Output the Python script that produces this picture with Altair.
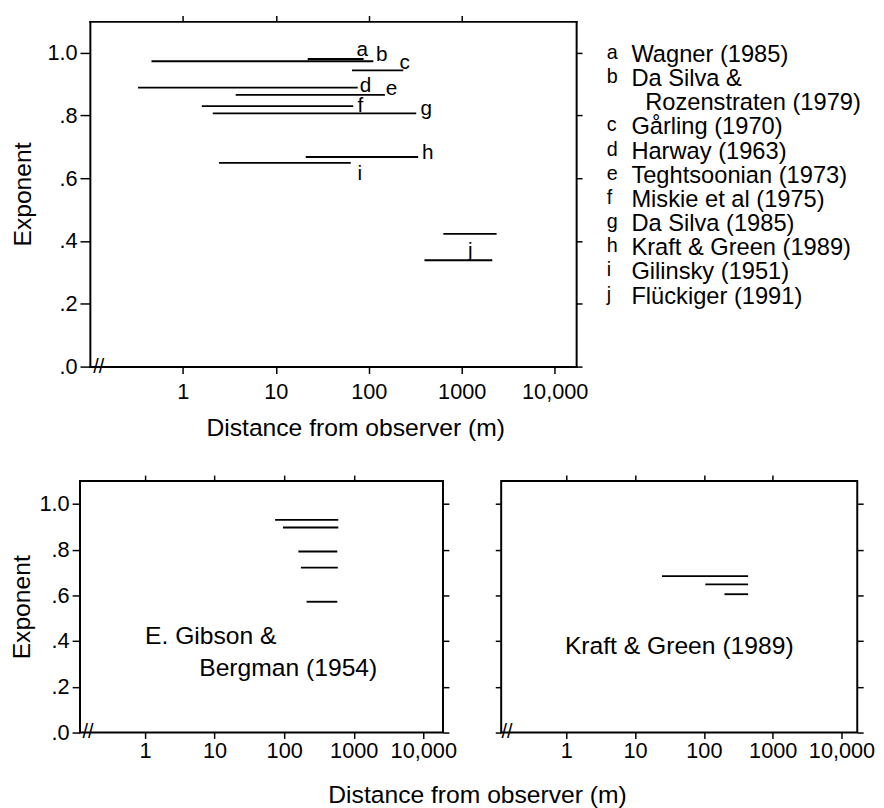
import altair as alt
import pandas as pd

FONT = "Liberation Sans"

# ---------------- data ----------------
# top panel: studies a-j
study_letters = ["a", "b", "c", "d", "e", "f", "g", "h", "i", "j"]
study_names = [
    "Wagner (1985)",
    "Da Silva &\nRozenstraten (1979)",
    "Gårling (1970)",
    "Harway (1963)",
    "Teghtsoonian (1973)",
    "Miskie et al (1975)",
    "Da Silva (1985)",
    "Kraft & Green (1989)",
    "Gilinsky (1951)",
    "Flückiger (1991)",
]
seg_study = ["a", "b", "c", "d", "e", "f", "g", "h", "i", "j", "j"]
seg_from = [22, 0.46, 66, 0.33, 3.7, 1.6, 2.1, 21, 2.45, 634, 397]
seg_to = [88, 112, 235, 76, 149, 68, 324, 340, 64, 2370, 2130]
seg_exp = [0.980, 0.973, 0.944, 0.889, 0.866, 0.830, 0.807, 0.668, 0.649, 0.423, 0.339]
label_dist = [85, 138, 244, 92, 176, 81, 414, 431, 80, 1239]
label_exp = [1.010, 0.992, 0.966, 0.895, 0.883, 0.830, 0.821, 0.680, 0.615, 0.369]

# bottom left: E. Gibson & Bergman (1954)
gb_from = [74, 96, 160, 174, 210]
gb_to = [600, 600, 580, 590, 580]
gb_exp = [0.930, 0.897, 0.792, 0.721, 0.572]
gb_text = ["E. Gibson &", "Bergman (1954)"]
gb_text_dist = [1.0, 6.0]
gb_text_exp = [0.422, 0.280]

# bottom right: Kraft & Green (1989)
kg_from = [24.6, 105, 199]
kg_to = [439, 439, 439]
kg_exp = [0.684, 0.648, 0.605]
kg_text = ["Kraft & Green (1989)"]
kg_text_dist = [43.8]
kg_text_exp = [0.379]

x_ticks = [1, 10, 100, 1000, 10000]
top_ticks = [1, 10, 100, 1000]
y_ticks = [0, 0.2, 0.4, 0.6, 0.8, 1.0]
x_title = "Distance from observer (m)"
y_title = "Exponent"

XLAB = "datum.value >= 10000 ? format(datum.value, ',') : format(datum.value, 'd')"
YLAB = "datum.value < 1 ? substring(format(datum.value, '.1f'), 1) : format(datum.value, '.1f')"

FRAME = dict(domain=True, domainColor="black", domainWidth=2, domainCap="square")
NOFRAME = dict(domain=False)


def panel(seg_df, txt_df, width, height, x_domain, x_axis, y_axis, txt_mark, break_x,
          x_range=None, frame=NOFRAME, view=None):
    if x_range is None:
        xs = alt.Scale(type="log", domain=x_domain, nice=False)
    else:
        xs = alt.Scale(type="log", domain=x_domain, nice=False, range=x_range)
    ys = alt.Scale(domain=[0, 1.1], nice=False, zero=False)
    top_axis = alt.Axis(orient="top", values=top_ticks, labels=False, tickSize=6,
                        grid=False, title=None, **frame)
    right_axis = alt.Axis(orient="right", values=y_ticks, labels=False, tickSize=6,
                          grid=False, title=None, **frame)
    segs = alt.Chart(seg_df).mark_rule(color="black", strokeWidth=1.9).encode(
        x=alt.X("start:Q", scale=xs, axis=x_axis),
        x2="end:Q",
        y=alt.Y("exp:Q", scale=ys, axis=y_axis),
    )
    txt = alt.Chart(txt_df).mark_text(color="black", font=FONT, **txt_mark).encode(
        x=alt.X("dist:Q", scale=xs, axis=top_axis),
        y=alt.Y("exp:Q", scale=ys, axis=right_axis),
        text="label:N",
    )
    brk = alt.Chart(pd.DataFrame({"brk": ["//"]})).mark_text(
        fontSize=20, font=FONT, color="black", align="center", baseline="middle"
    ).encode(x=alt.value(break_x), y=alt.value(height), text="brk:N")
    props = dict(width=width, height=height)
    if view is not None:
        props["view"] = view
    return (
        alt.layer(segs, txt, brk)
        .resolve_axis(x="independent", y="independent")
        .properties(**props)
    )


# ---------------- top panel ----------------
# the top frame starts 10px right of the bottom-left frame: the plot origin is shared,
# so the x range starts at 10 and the frame is drawn with the axis domains.
top_seg = pd.DataFrame({"study": seg_study, "start": seg_from, "end": seg_to, "exp": seg_exp})
top_txt = pd.DataFrame({"label": study_letters, "dist": label_dist, "exp": label_exp})
top_panel = panel(
    top_seg, top_txt, 503, 350, [0.1, 17000],
    alt.Axis(orient="bottom", values=x_ticks, labelExpr=XLAB, tickSize=7, labelPadding=8,
             grid=False, title=x_title, titlePadding=14, titleX=279,
             titleAlign="center", **FRAME),
    alt.Axis(orient="left", values=y_ticks, labelExpr=YLAB, tickSize=10, labelPadding=3,
             grid=False, title=y_title, titlePadding=12, offset=-10, **FRAME),
    dict(fontSize=21, align="center", baseline="middle"),
    19,
    x_range=[10, 503],
    frame=FRAME,
    view=alt.ViewBackground(stroke="transparent"),
)

# legend (text list at the right)
rows = []
r = 0
for letter, name in zip(study_letters, study_names):
    for k, line in enumerate(name.split("\n")):
        rows.append({"row": r, "letter": letter if k == 0 else "", "text": line, "indent": k})
        r += 1
leg_df = pd.DataFrame(rows)
leg_y = alt.Y("row:Q", scale=alt.Scale(domain=[-1.39, 11.26], reverse=True, nice=False, zero=False),
              axis=None)
leg_base = alt.Chart(leg_df)
leg_letters = leg_base.transform_filter("datum.indent == 0").mark_text(
    align="left", baseline="middle", fontSize=20, dy=-2, font=FONT, color="black"
).encode(x=alt.value(0), y=leg_y, text="letter:N")
leg_names = leg_base.transform_filter("datum.indent == 0").mark_text(
    align="left", baseline="middle", fontSize=24, font=FONT, color="black"
).encode(x=alt.value(25), y=leg_y, text="text:N")
leg_cont = leg_base.transform_filter("datum.indent == 1").mark_text(
    align="left", baseline="middle", fontSize=24, font=FONT, color="black"
).encode(x=alt.value(39), y=leg_y, text="text:N")
legend = alt.layer(leg_letters, leg_names, leg_cont).properties(
    width=250, height=310, view=alt.ViewBackground(stroke="transparent")
)

# ---------------- bottom panels ----------------
bl_seg = pd.DataFrame({"start": gb_from, "end": gb_to, "exp": gb_exp})
bl_txt = pd.DataFrame({"label": gb_text, "dist": gb_text_dist, "exp": gb_text_exp})
bl = panel(
    bl_seg, bl_txt, 368, 255, [0.116, 19200],
    alt.Axis(orient="bottom", values=x_ticks, labelExpr=XLAB, tickSize=6, labelPadding=2,
             domain=False, grid=False, title=None),
    alt.Axis(orient="left", values=y_ticks, labelExpr=YLAB, tickSize=8, labelPadding=3,
             domain=False, grid=False, title=y_title, titlePadding=5),
    dict(fontSize=25, align="left", baseline="middle"),
    8,
)

br_seg = pd.DataFrame({"start": kg_from, "end": kg_to, "exp": kg_exp})
br_txt = pd.DataFrame({"label": kg_text, "dist": kg_text_dist, "exp": kg_text_exp})
br = panel(
    br_seg, br_txt, 361, 255, [0.113, 16950],
    alt.Axis(orient="bottom", values=x_ticks, labelExpr=XLAB, tickSize=6, labelPadding=2,
             domain=False, grid=False, title=None),
    alt.Axis(orient="left", values=y_ticks, labels=False, tickSize=6,
             domain=False, grid=False, title=None),
    dict(fontSize=25, align="center", baseline="middle"),
    6,
)

top_row = alt.hconcat(top_panel, legend, spacing=17)
bottom_row = alt.hconcat(bl, br, spacing=36).properties(
    title=alt.TitleParams(text=x_title, orient="bottom", anchor="middle", font=FONT,
                          fontSize=25, fontWeight="normal", color="black", offset=21, dx=36)
)

chart = (
    alt.vconcat(top_row, bottom_row, spacing=32)
    .properties(padding={"left": 0, "top": 0, "right": 0, "bottom": 0}, background="white")
    .configure_view(stroke="black", strokeWidth=2)
    .configure_axis(labelFont=FONT, titleFont=FONT, labelFontSize=22, titleFontSize=25,
                    labelColor="black", titleColor="black", tickColor="black", tickWidth=1.5,
                    titleFontWeight="normal")
    .configure_text(font=FONT, color="black")
)

chart.save("out.html", embed_options={"renderer": "svg", "actions": False})
